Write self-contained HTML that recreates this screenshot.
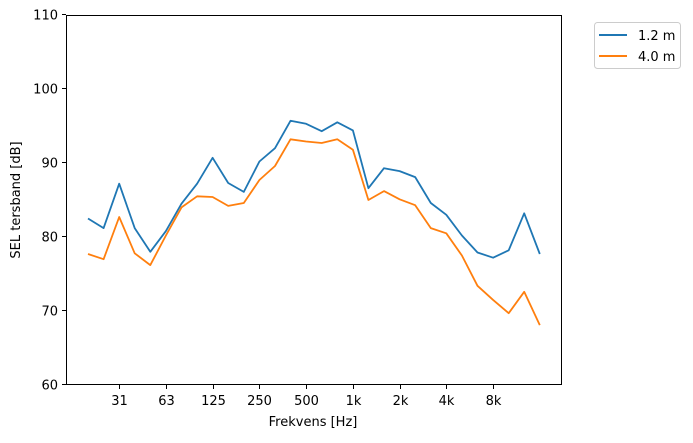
<!DOCTYPE html>
<html><head><meta charset="utf-8"><style>
body{margin:0;background:#fff;width:693px;height:438px;overflow:hidden}
text{font-family:"DejaVu Sans","Liberation Sans",sans-serif;font-size:13px;fill:#000}
</style></head><body>
<svg id="s" width="693" height="438" xmlns="http://www.w3.org/2000/svg">
<rect x="66.5" y="15.5" width="495" height="369" fill="none" stroke="#000" stroke-width="1"/>
<g id="g"></g>
<text x="313" y="426" text-anchor="middle">Frekvens [Hz]</text>
<text transform="translate(20,200) rotate(-90)" text-anchor="middle">SEL tersband [dB]</text>
<rect x="594.5" y="22.5" width="86" height="46" rx="3" fill="#fff" stroke="#ccc"/>
<line x1="599" y1="35" x2="627" y2="35" stroke="#1f77b4" stroke-width="2"/>
<text x="638" y="40">1.2 m</text>
<line x1="599" y1="56" x2="627" y2="56" stroke="#ff7f0e" stroke-width="2"/>
<text x="638" y="61">4.0 m</text>
</svg>
<script>
var g=document.getElementById('g'),h='';
function Y(v){return 385-(v-60)*7.4}
for(var v=60;v<=110;v+=10){var y=Math.round(Y(v))-0.5;h+='<line x1="62" y1="'+y+'" x2="66" y2="'+y+'" stroke="#000"/><text x="58" y="'+(y+5)+'" text-anchor="end">'+v+'</text>';}
var L=['31','63','125','250','500','1k','2k','4k','8k'];
for(var i=0;i<9;i++){var x=Math.round(119.2+i*46.75)+0.5;h+='<line x1="'+x+'" y1="385" x2="'+x+'" y2="389" stroke="#000"/><text x="'+x+'" y="405" text-anchor="middle">'+L[i]+'</text>';}
var b=[82.5,81.2,87.2,81.2,78,80.8,84.5,87.2,90.7,87.3,86.1,90.2,92,95.7,95.3,94.3,95.5,94.4,86.6,89.3,88.9,88.1,84.6,83,80.2,77.9,77.2,78.2,83.2,77.7];
var o=[77.7,77,82.7,77.8,76.2,80.2,84,85.5,85.4,84.2,84.6,87.7,89.6,93.2,92.9,92.7,93.2,91.8,85,86.2,85.1,84.3,81.2,80.5,77.5,73.4,71.5,69.7,72.6,68.1];
function P(a,c){var p=a.map(function(v,i){return (88+i*15.58).toFixed(1)+','+Y(v).toFixed(1)}).join(' ');return '<polyline points="'+p+'" fill="none" stroke="'+c+'" stroke-width="1.8" stroke-linejoin="round"/>';}
h+=P(b,'#1f77b4')+P(o,'#ff7f0e');
g.innerHTML=h;
</script>
</body></html>
